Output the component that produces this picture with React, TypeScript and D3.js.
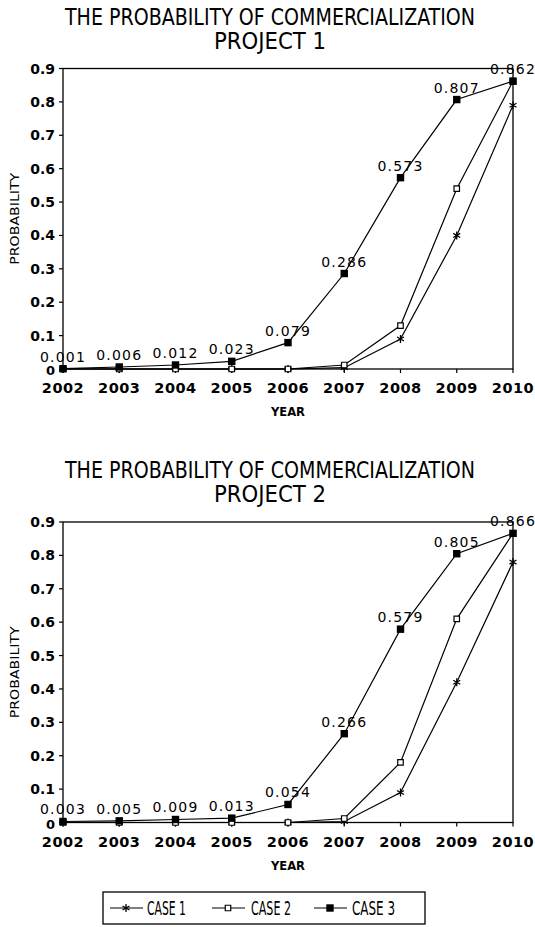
import React from "react";
import * as d3 from "d3";

// years on the x axis
const years = [2002, 2003, 2004, 2005, 2006, 2007, 2008, 2009, 2010];

// project 1
const p1Case1 = [0, 0, 0, 0, 0, 0.004, 0.09, 0.4, 0.79];
const p1Case2 = [0, 0, 0, 0, 0, 0.012, 0.13, 0.54, 0.862];
const p1Case3 = [0.001, 0.006, 0.012, 0.023, 0.079, 0.286, 0.573, 0.807, 0.862];

// project 2
const p2Case1 = [0, 0, 0, 0, 0, 0.003, 0.09, 0.42, 0.78];
const p2Case2 = [0, 0, 0, 0, 0, 0.012, 0.18, 0.61, 0.866];
const p2Case3 = [0.003, 0.005, 0.009, 0.013, 0.054, 0.266, 0.579, 0.805, 0.866];

const caseNames = ["CASE 1", "CASE 2", "CASE 3"];

const titleFont =
  "'Liberation Sans Narrow', 'DejaVu Sans Condensed', 'Liberation Sans', sans-serif";
const numFont = "'DejaVu Sans', sans-serif";

const left = 63;
const right = 513;

const x = d3.scalePoint<number>().domain(years).range([left, right]);
const fmt = d3.format(".3f");

const asterisk = d3.symbol(d3.symbolAsterisk, 45)();
const openSquare = d3.symbol(d3.symbolSquare, 30)();
const fullSquare = d3.symbol(d3.symbolSquare, 55)();

const Marker = ({ kind, cx, cy }: { kind: number; cx: number; cy: number }) => {
  if (kind === 0)
    return (
      <path d={asterisk!} transform={`translate(${cx},${cy})`} fill="none" stroke="#000" strokeWidth={1.3} />
    );
  if (kind === 1)
    return (
      <path d={openSquare!} transform={`translate(${cx},${cy})`} fill="#fff" stroke="#000" strokeWidth={1.2} />
    );
  return <path d={fullSquare!} transform={`translate(${cx},${cy})`} fill="#000" />;
};

const Panel = ({ top, project, series }: { top: number; project: string; series: number[][] }) => {
  const bottom = top + 300.5;
  const y = d3.scaleLinear().domain([0, 0.9]).range([bottom, top]);
  const line = d3
    .line<number>()
    .x((_, i) => x(years[i])!)
    .y((d) => y(d));
  const labels = series[2];

  return (
    <g>
      {/* title */}
      <text x={270} y={top - 44} textAnchor="middle" fontFamily={titleFont} fontSize={23}
        textLength={410} lengthAdjust="spacingAndGlyphs">
        THE PROBABILITY OF COMMERCIALIZATION
      </text>
      <text x={270} y={top - 20} textAnchor="middle" fontFamily={titleFont} fontSize={23}
        textLength={112} lengthAdjust="spacingAndGlyphs">
        {project}
      </text>

      {/* frame */}
      <rect x={left} y={top} width={right - left} height={bottom - top} fill="none" stroke="#000" strokeWidth={1.3} />

      {/* y ticks */}
      {y.ticks(9).map((t) => (
        <g key={t}>
          <line x1={left - 4} x2={left} y1={y(t)} y2={y(t)} stroke="#000" strokeWidth={1.2} />
          <text x={55} y={y(t) + (t === 0 ? 6 : 5)} textAnchor="end" fontFamily={numFont} fontWeight="bold"
            fontSize={t === 0 ? 13 : 14}>
            {t === 0 ? "0" : t.toFixed(1)}
          </text>
        </g>
      ))}

      {/* x ticks */}
      {years.map((yr) => (
        <g key={yr}>
          <line x1={x(yr)} x2={x(yr)} y1={bottom} y2={bottom + 4} stroke="#000" strokeWidth={1.2} />
          <text x={x(yr)} y={bottom + 24} textAnchor="middle" fontFamily={numFont} fontWeight="bold"
            fontSize={14.5} letterSpacing={0.5}>
            {yr}
          </text>
        </g>
      ))}

      <text x={288} y={bottom + 47} textAnchor="middle" fontFamily={numFont} fontWeight="bold" fontSize={12}
        textLength={34} lengthAdjust="spacingAndGlyphs">
        YEAR
      </text>
      <text transform={`translate(19,${(top + bottom) / 2}) rotate(-90)`} textAnchor="middle"
        fontFamily={numFont} fontSize={13} textLength={92} lengthAdjust="spacingAndGlyphs">
        PROBABILITY
      </text>

      {/* lines */}
      {series.map((s, k) => (
        <path key={k} d={line(s)!} fill="none" stroke="#000" strokeWidth={1.2} />
      ))}

      {/* markers */}
      {series.map((s, k) =>
        s.map((v, i) => <Marker key={`${k}-${i}`} kind={k} cx={x(years[i])!} cy={y(v)} />)
      )}

      {/* case 3 value labels */}
      {labels.map((v, i) => (
        <text key={i} x={x(years[i])} y={y(v) - 7} textAnchor="middle" fontFamily={numFont}
          fontSize={14} letterSpacing={1.2}>
          {fmt(v)}
        </text>
      ))}
    </g>
  );
};

const Legend = () => {
  const lineStarts = [110, 212, 314];
  const textStarts = [147, 251, 352];
  const textLens = [39, 40, 43];
  return (
    <g>
      <rect x={103} y={892} width={322} height={32} fill="#fff" stroke="#000" strokeWidth={1.3} />
      {caseNames.map((name, k) => (
        <g key={name}>
          <line x1={lineStarts[k]} x2={lineStarts[k] + 33} y1={908} y2={908} stroke="#000" strokeWidth={1.2} />
          <Marker kind={k} cx={lineStarts[k] + 16} cy={908} />
          <text x={textStarts[k]} y={915} fontFamily={titleFont} fontSize={19}
            textLength={textLens[k]} lengthAdjust="spacingAndGlyphs">
            {name}
          </text>
        </g>
      ))}
    </g>
  );
};

export default function App() {
  return (
    <svg width={535} height={927} style={{ position: "absolute", left: 0, top: 0, background: "#fff" }}>
      <rect width={535} height={927} fill="#fff" />
      <Panel top={68.5} project="PROJECT 1" series={[p1Case1, p1Case2, p1Case3]} />
      <Panel top={522} project="PROJECT 2" series={[p2Case1, p2Case2, p2Case3]} />
      <Legend />
    </svg>
  );
}
